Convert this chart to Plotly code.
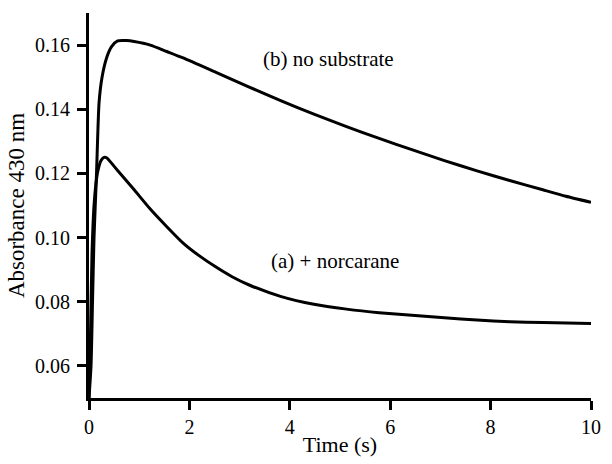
import plotly.graph_objects as go

# Curve (b) no substrate
t_b = [0, 0.04, 0.07, 0.10, 0.15, 0.20, 0.26, 0.35, 0.45, 0.57, 0.75, 0.90,
       1.22, 1.55, 1.875, 2.53, 3.18, 3.83, 4.48, 5.13, 5.78, 6.43, 7.08,
       7.73, 8.38, 9.04, 9.5, 10.0]
v_b = [0.050, 0.060, 0.080, 0.100, 0.120, 0.142, 0.150, 0.156, 0.1595, 0.1613,
       0.1614, 0.1611, 0.1600, 0.1580, 0.1560, 0.1515, 0.1470, 0.1426, 0.1385,
       0.1346, 0.1309, 0.1274, 0.1240, 0.1208, 0.1178, 0.1149, 0.1129, 0.1110]

# Curve (a) + norcarane
t_a = [0, 0.03, 0.06, 0.10, 0.14, 0.18, 0.24, 0.30, 0.35, 0.57, 0.90, 1.22,
       1.55, 1.875, 2.2, 2.53, 2.85, 3.18, 3.83, 4.48, 5.13, 5.78, 6.43, 7.08,
       7.73, 8.38, 9.04, 10.0]
v_a = [0.050, 0.070, 0.095, 0.110, 0.117, 0.121, 0.1240, 0.1250, 0.1249, 0.1209,
       0.1149, 0.1089, 0.1034, 0.0983, 0.0943, 0.0908, 0.0878, 0.0853, 0.0816,
       0.0792, 0.0777, 0.0766, 0.0758, 0.0750, 0.0743, 0.0738, 0.0735, 0.0732]

x_ticks = [0, 2, 4, 6, 8, 10]
y_ticks = [0.06, 0.08, 0.10, 0.12, 0.14, 0.16]
y_tick_labels = ["0.06", "0.08", "0.10", "0.12", "0.14", "0.16"]

FONT = "Liberation Serif, Times New Roman, serif"

fig = go.Figure()
for t, v in ((t_b, v_b), (t_a, v_a)):
    fig.add_trace(go.Scatter(x=t, y=v, mode="lines",
                             line=dict(color="black", width=3, shape="spline", smoothing=0.6),
                             showlegend=False))

fig.add_annotation(x=4.77, y=0.1557, text="(b) no substrate", showarrow=False,
                   font=dict(family=FONT, size=21, color="black"))
fig.add_annotation(x=4.9, y=0.0928, text="(a) + norcarane", showarrow=False,
                   font=dict(family=FONT, size=21, color="black"))

fig.update_layout(
    width=612, height=464,
    margin=dict(l=89, r=11, t=13, b=52),
    paper_bgcolor="white", plot_bgcolor="white",
    font=dict(family=FONT, size=20, color="black"),
)
fig.update_xaxes(
    range=[0, 10], tickvals=x_ticks, ticks="outside", ticklen=9, tickwidth=2.5,
    tickcolor="black", showline=True, linecolor="black", linewidth=3,
    showgrid=False, zeroline=False,
    title=dict(text="Time (s)", font=dict(family=FONT, size=22, color="black"), standoff=0),
    tickfont=dict(family=FONT, size=20, color="black"),
)
fig.update_yaxes(
    range=[0.05, 0.17], tickvals=y_ticks, ticktext=y_tick_labels,
    ticks="outside", ticklen=9, tickwidth=2.5, tickcolor="black",
    showline=True, linecolor="black", linewidth=3,
    showgrid=False, zeroline=False, ticklabelstandoff=3,
    title=dict(text="Absorbance 430 nm", font=dict(family=FONT, size=23, color="black"), standoff=4),
    tickfont=dict(family=FONT, size=20, color="black"),
)

fig.write_html("out.html")
